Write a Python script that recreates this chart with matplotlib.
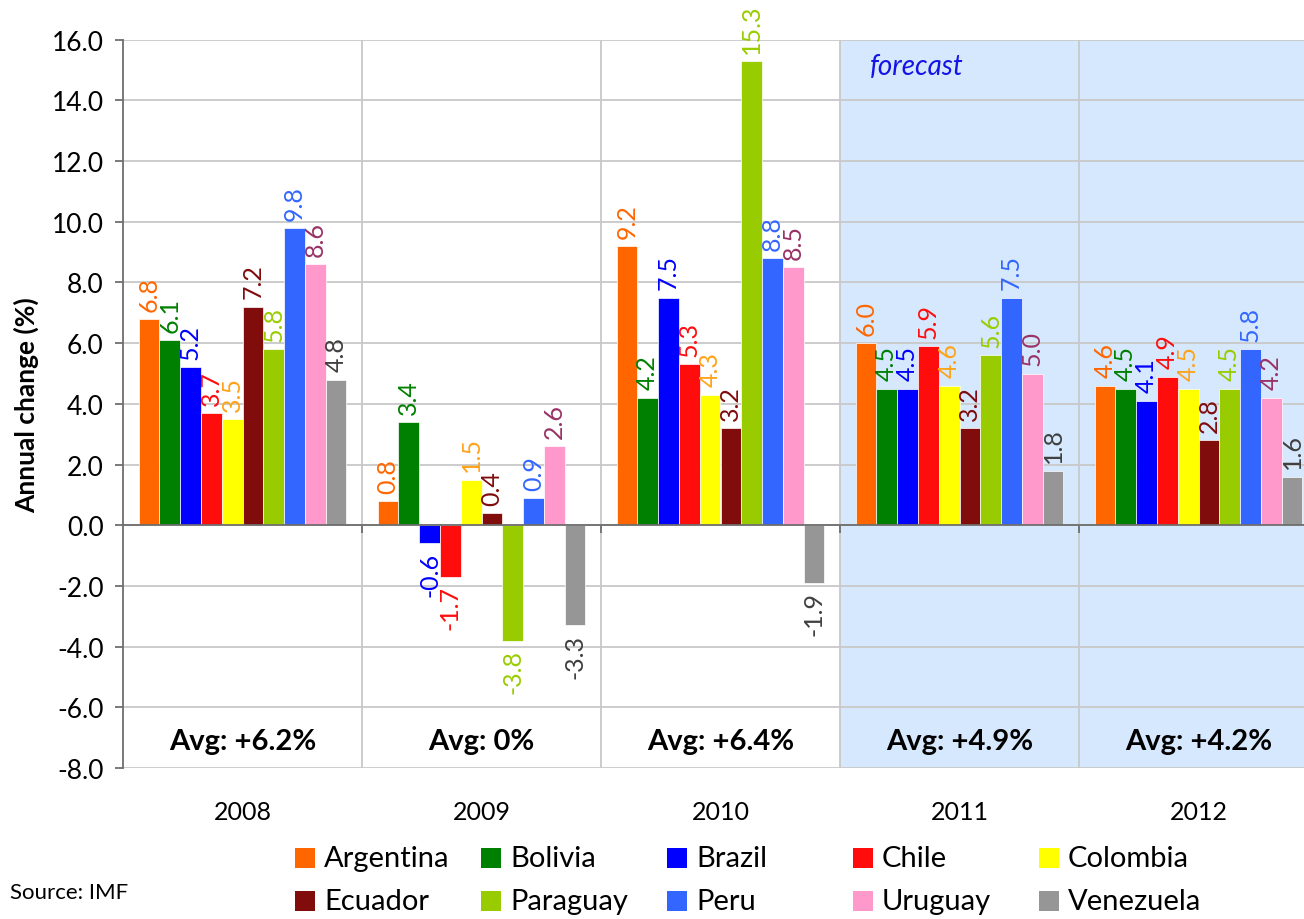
import numpy as np
import matplotlib
matplotlib.use('Agg')
import matplotlib.pyplot as plt
from matplotlib.patches import Rectangle

# data (annual GDP change, %)
years = ['2008', '2009', '2010', '2011', '2012']
countries = ['Argentina', 'Bolivia', 'Brazil', 'Chile', 'Colombia',
             'Ecuador', 'Paraguay', 'Peru', 'Uruguay', 'Venezuela']
argentina = [6.8, 0.8, 9.2, 6.0, 4.6]
bolivia = [6.1, 3.4, 4.2, 4.5, 4.5]
brazil = [5.2, -0.6, 7.5, 4.5, 4.1]
chile = [3.7, -1.7, 5.3, 5.9, 4.9]
colombia = [3.5, 1.5, 4.3, 4.6, 4.5]
ecuador = [7.2, 0.4, 3.2, 3.2, 2.8]
paraguay = [5.8, -3.8, 15.3, 5.6, 4.5]
peru = [9.8, 0.9, 8.8, 7.5, 5.8]
uruguay = [8.6, 2.6, 8.5, 5.0, 4.2]
venezuela = [4.8, -3.3, -1.9, 1.8, 1.6]
growth = [argentina, bolivia, brazil, chile, colombia,
          ecuador, paraguay, peru, uruguay, venezuela]
averages = ['+6.2%', '0%', '+6.4%', '+4.9%', '+4.2%']

bar_colors = ['#FF6600', '#008000', '#0000FF', '#FF0D0D', '#FFFF00',
              '#800C0C', '#99CC00', '#3366FF', '#FF99CC', '#969696']
label_colors = ['#FF6600', '#008000', '#0000FF', '#FF0D0D', '#FFA31A',
                '#800C0C', '#99CC00', '#3366FF', '#993366', '#404040']

plt.rcParams['font.family'] = ['Lato', 'DejaVu Sans']
plt.rcParams['axes.unicode_minus'] = False

W, H = 1304, 920
fig = plt.figure(figsize=(W / 100, H / 100), dpi=100)
ax = fig.add_axes([123 / W, 1 - 769 / H, (1318 - 123) / W, (769 - 40.7) / H])

x = np.arange(len(years))
width = 0.087

# forecast years shaded
ax.axvspan(2.5, 4.5, color='#D6E8FD', zorder=0, lw=0)

for i, vals in enumerate(growth):
    pos = x + (i - 4.5) * width
    ax.bar(pos, vals, width, color=bar_colors[i], edgecolor='white',
           linewidth=0.5, zorder=3)
    for p, v in zip(pos, vals):
        up = v >= 0
        ax.annotate(f'{v:.1f}', (p, v), xytext=(0, 6 if up else -6),
                    textcoords='offset points', rotation=90,
                    ha='center', va='bottom' if up else 'top',
                    fontsize=18, color=label_colors[i], zorder=4)

for xi, yr, avg in zip(x, years, averages):
    ax.text(xi, -7.1, f'Avg: {avg}', ha='center', va='center',
            fontsize=21, fontweight='bold', zorder=4)
    ax.annotate(yr, (xi, 0), xycoords=ax.get_xaxis_transform(),
                xytext=(0, -31), textcoords='offset points',
                ha='center', va='center', fontsize=18)

ax.text(2.625, 15.13, 'forecast', style='italic', color='#1414E6',
        fontsize=20, va='center', zorder=4)

ax.set_xlim(-0.5, 4.5)
ax.set_ylim(-8, 16)
ax.set_yticks(np.arange(-8, 17, 2))
ax.set_yticklabels([f'{t:.1f}' for t in np.arange(-8, 17, 2)])
ax.set_xticks([0.5, 1.5, 2.5, 3.5])
ax.set_xticklabels([])

ax.set_axisbelow(True)
ax.grid(True, color='#C8C8C8', linewidth=1.3, zorder=1)
for s in ['top', 'right']:
    ax.spines[s].set_visible(False)
ax.spines['bottom'].set_position(('data', 0))
ax.spines['bottom'].set_color('#6E6E6E')
ax.spines['bottom'].set_linewidth(1.3)
ax.spines['bottom'].set_zorder(5)
ax.spines['left'].set_color('#6E6E6E')
ax.spines['left'].set_linewidth(1.3)
ax.tick_params(axis='y', length=6, width=1.3, color='#6E6E6E',
               labelsize=19, pad=8)
ax.tick_params(axis='x', length=6, width=1.3, color='#6E6E6E')

fig.text(26 / W, 1 - 405 / H, 'Annual change (%)', rotation=90,
         ha='center', va='center', fontsize=19, fontweight='bold')
fig.text(10 / W, 1 - 893 / H, 'Source: IMF', fontsize=16, va='center')

# legend laid out like the original: 5 equal columns, 2 rows
for i, name in enumerate(countries):
    col, row = i % 5, i // 5
    x0 = 295 + 186 * col
    yc = 859 + 43 * row
    fig.add_artist(Rectangle((x0 / W, 1 - (yc + 10) / H), 20 / W, 20 / H,
                             transform=fig.transFigure,
                             facecolor=bar_colors[i], edgecolor='none'))
    fig.text((x0 + 29) / W, 1 - yc / H, name, fontsize=21, va='center')

fig.savefig('out.png', dpi=100)
